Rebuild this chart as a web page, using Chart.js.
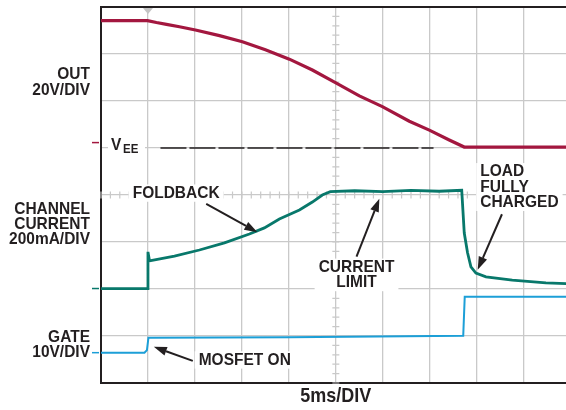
<!DOCTYPE html>
<html>
<head>
<meta charset="utf-8">
<script src="https://cdn.jsdelivr.net/npm/chart.js@4.4.1/dist/chart.umd.min.js"></script>
<style>
  html, body { margin: 0; padding: 0; background: #fff; overflow: hidden; }
  canvas { display: block; }
</style>
</head>
<body>
<canvas id="scope" width="566" height="410"></canvas>
<script>
// time in ms (5ms/DIV), levels in screen divisions counted up from the bottom edge (8 DIV tall)
const outTime = [0, 4.95, 5.9, 6.97, 8.35, 10.05, 12.61, 15.05, 17.5, 20.05, 22.5, 25.05, 27.5, 29.95, 32.82, 34.95, 37.07, 38.67, 50];
const outLevel = [7.71, 7.71, 7.67, 7.63, 7.58, 7.51, 7.39, 7.26, 7.09, 6.89, 6.66, 6.38, 6.11, 5.88, 5.57, 5.38, 5.17, 5.02, 5.02];

const currTime = [0, 4.95, 5.0, 5.16, 7.82, 10.48, 13.14, 15.8, 17.39, 18.99, 21.12, 22.5, 23.56, 24.41, 27, 30, 33, 36, 38.4, 38.67, 39.02, 39.38, 39.91, 40.98, 43.78, 47.36, 50];
const currLevel = [2.01, 2.01, 2.79, 2.6, 2.7, 2.83, 2.98, 3.17, 3.3, 3.49, 3.68, 3.85, 4.0, 4.07, 4.09, 4.07, 4.1, 4.08, 4.1, 3.19, 2.77, 2.47, 2.34, 2.26, 2.19, 2.13, 2.11];

const gateTime = [0, 4.63, 4.89, 5.05, 20, 38.56, 38.72, 50];
const gateLevel = [0.645, 0.645, 0.7, 0.964, 0.974, 1.006, 1.836, 1.836];

const veeTime = [6.33, 35.4];
const veeLevel = [5.0, 5.0];

// channel reference markers on the left edge: OUT, CURRENT, GATE
const markerLevels = [5.115, 2.01, 0.645];
const triggerTime = 5;

const ink = '#231f20';
const colors = ['#a3173f', '#08786b', '#1c9fd7'];
const gridColor = '#c9c9c9';

const sideLabels = [
  {lines: ['OUT', '20V/DIV'], v: 6.40},
  {lines: ['CHANNEL', 'CURRENT', '200mA/DIV'], v: 3.38},
  {lines: ['GATE', '10V/DIV'], v: 0.82}
];

const notes = [
  {lines: ['FOLDBACK'], t: 8.0, v: 4.04, align: 'center'},
  {lines: ['CURRENT', 'LIMIT'], t: 27.2, v: 2.30, align: 'center'},
  {lines: ['LOAD', 'FULLY', 'CHARGED'], t: 40.37, v: 4.17, align: 'left'},
  {lines: ['MOSFET ON'], t: 10.4, v: 0.49, align: 'left'}
];

const arrows = [
  [11.2, 3.81, 16.65, 3.21],
  [27.2, 2.69, 29.63, 3.92],
  [42.68, 3.59, 40.1, 2.41],
  [9.77, 0.47, 5.62, 0.77]
];

const font = (size) => 'bold ' + size + 'px "Liberation Sans", Arial, sans-serif';
const lineGap = 15.3;
const stretch = 1.1; // the lettering in the figure is a bit taller than Arial

function tallText(ctx, s, x, y) {
  ctx.save();
  ctx.translate(x, y);
  ctx.scale(1, stretch);
  ctx.fillText(s, 0, 0);
  ctx.restore();
}

function drawArrow(ctx, x1, y1, x2, y2) {
  const a = Math.atan2(y2 - y1, x2 - x1);
  const hl = 13, hw = 4.5;
  const bx = x2 - hl * Math.cos(a), by = y2 - hl * Math.sin(a);
  ctx.beginPath();
  ctx.moveTo(x1, y1);
  ctx.lineTo(bx, by);
  ctx.stroke();
  ctx.beginPath();
  ctx.moveTo(x2, y2);
  ctx.lineTo(bx + hw * Math.sin(a), by - hw * Math.cos(a));
  ctx.lineTo(bx - hw * Math.sin(a), by + hw * Math.cos(a));
  ctx.closePath();
  ctx.fill();
}

function noteBox(ctx, n, x, y) {
  ctx.font = font(15.5);
  const w = Math.max(...n.lines.map(s => ctx.measureText(s).width));
  const h = n.lines.length * lineGap;
  const left = n.align === 'center' ? x - w / 2 : x;
  return {left: left, top: y - h / 2, w: w, h: h};
}

const scopeDecor = {
  id: 'scopeDecor',
  beforeDatasetsDraw(chart) {
    const {ctx, chartArea: area, scales: {x, y}} = chart;
    ctx.save();
    // minor ticks on the centre axes
    ctx.strokeStyle = gridColor;
    ctx.lineWidth = 1.2;
    const cx = x.getPixelForValue(25), cy = y.getPixelForValue(4);
    ctx.beginPath();
    for (let i = 0; i <= 40; i++) {
      const py = y.getPixelForValue(i * 0.2);
      ctx.moveTo(cx - 3.5, py); ctx.lineTo(cx + 3.5, py);
    }
    for (let i = 0; i <= 49; i++) {
      const pxv = x.getPixelForValue(i);
      ctx.moveTo(pxv, cy - 3.5); ctx.lineTo(pxv, cy + 3.5);
    }
    ctx.stroke();
    // white backing under the notes
    ctx.fillStyle = '#fff';
    notes.forEach(n => {
      const b = noteBox(ctx, n, x.getPixelForValue(n.t), y.getPixelForValue(n.v));
      ctx.fillRect(b.left - 4, b.top - 1, b.w + 8, b.h + 2);
    });
    ctx.fillRect(area.left + 7, y.getPixelForValue(5) - 8, 37, 16);
    ctx.restore();
  },
  afterDatasetsDraw(chart) {
    const {ctx, chartArea: area, scales: {x, y}} = chart;
    ctx.save();
    // frame top
    ctx.strokeStyle = ink;
    ctx.lineWidth = 2;
    ctx.beginPath();
    ctx.moveTo(area.left - 1, area.top);
    ctx.lineTo(area.right, area.top);
    ctx.stroke();
    // trigger marker
    const tx = x.getPixelForValue(triggerTime);
    ctx.fillStyle = '#c4c4c4';
    ctx.beginPath();
    ctx.moveTo(tx - 5, area.top + 1);
    ctx.lineTo(tx + 5, area.top + 1);
    ctx.lineTo(tx, area.top + 7);
    ctx.closePath();
    ctx.fill();
    // channel markers
    ctx.lineWidth = 1.5;
    markerLevels.forEach((v, i) => {
      const py = y.getPixelForValue(v);
      ctx.strokeStyle = colors[i];
      ctx.beginPath();
      ctx.moveTo(area.left - 9, py);
      ctx.lineTo(area.left - 2, py);
      ctx.stroke();
    });
    ctx.fillStyle = ink;
    ctx.textBaseline = 'middle';
    // side labels
    ctx.font = font(15.5);
    ctx.textAlign = 'right';
    sideLabels.forEach(s => {
      const y0 = y.getPixelForValue(s.v) - (s.lines.length - 1) * lineGap / 2;
      s.lines.forEach((t, i) => tallText(ctx, t, area.left - 11, y0 + i * lineGap));
    });
    // notes
    notes.forEach(n => {
      const px = x.getPixelForValue(n.t);
      const y0 = y.getPixelForValue(n.v) - (n.lines.length - 1) * lineGap / 2;
      ctx.textAlign = n.align;
      n.lines.forEach((t, i) => tallText(ctx, t, px, y0 + i * lineGap));
    });
    // V_EE
    const vy = y.getPixelForValue(5);
    ctx.textAlign = 'left';
    ctx.font = font(15.5);
    tallText(ctx, 'V', area.left + 10, vy - 3);
    ctx.font = font(11.5);
    tallText(ctx, 'EE', area.left + 22, vy + 2);
    // arrows
    ctx.strokeStyle = ink;
    ctx.lineWidth = 2;
    arrows.forEach(a => drawArrow(ctx, x.getPixelForValue(a[0]), y.getPixelForValue(a[1]),
      x.getPixelForValue(a[2]), y.getPixelForValue(a[3])));
    // time base
    ctx.font = font(18);
    ctx.textAlign = 'center';
    tallText(ctx, '5ms/DIV', x.getPixelForValue(25), area.bottom + 14);
    ctx.restore();
  }
};

const trace = (label, xs, ys, color, width) => ({
  label: label,
  data: xs.map((t, i) => ({x: t, y: ys[i]})),
  borderColor: color,
  borderWidth: width,
  pointRadius: 0,
  tension: 0,
  fill: false
});

new Chart(document.getElementById('scope'), {
  type: 'line',
  data: {
    datasets: [
      trace('OUT', outTime, outLevel, colors[0], 3.2),
      trace('CHANNEL CURRENT', currTime, currLevel, colors[1], 2.8),
      trace('GATE', gateTime, gateLevel, colors[2], 2),
      Object.assign(trace('VEE', veeTime, veeLevel, ink, 1.4), {borderDash: [26, 3]})
    ]
  },
  options: {
    responsive: false,
    animation: false,
    events: [],
    layout: {padding: {left: 101, top: 7, right: 0, bottom: 27}},
    plugins: {legend: {display: false}, tooltip: {enabled: false}},
    scales: {
      x: {
        type: 'linear', min: 0, max: 49.5,
        ticks: {display: false, stepSize: 5, includeBounds: false},
        grid: {color: gridColor, lineWidth: 1.3, drawTicks: false},
        border: {display: true, color: ink, width: 2}
      },
      y: {
        type: 'linear', min: 0, max: 8,
        ticks: {display: false, stepSize: 1},
        grid: {color: gridColor, lineWidth: 1.3, drawTicks: false},
        border: {display: true, color: ink, width: 2}
      }
    }
  },
  plugins: [scopeDecor]
});
</script>
</body>
</html>
